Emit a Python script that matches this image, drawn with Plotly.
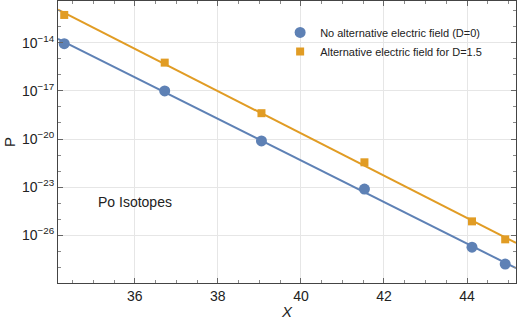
import numpy as np
import plotly.graph_objects as go

# (log10 of P)
chi_d0 = [34.3, 36.72, 39.05, 41.53, 44.12, 44.92]
logp_d0 = [-14.06, -17.0, -20.12, -23.12, -26.74, -27.79]
chi_d15 = [34.3, 36.72, 39.05, 41.53, 44.12, 44.92]
logp_d15 = [-12.27, -15.24, -18.39, -21.45, -25.13, -26.25]

y_exps = [-14, -17, -20, -23, -26]
x_ticks = [36, 38, 40, 42, 44]

BLUE = "#5E81B5"
ORANGE = "#E19C24"

xr = [34.15, 45.18]
xx = np.array(xr)

fig = go.Figure()

# fitted lines (straight in log space)
for xs, ys, col in [(chi_d0, logp_d0, BLUE), (chi_d15, logp_d15, ORANGE)]:
    k, b = np.polyfit(xs, ys, 1)
    fig.add_trace(go.Scatter(x=xx, y=10 ** (k * xx + b), mode="lines",
                             line=dict(color=col, width=2), showlegend=False,
                             hoverinfo="skip"))

fig.add_trace(go.Scatter(x=chi_d0, y=[10 ** v for v in logp_d0], mode="markers",
                         name="No alternative electric field (D=0)",
                         marker=dict(color=BLUE, size=11, symbol="circle")))
fig.add_trace(go.Scatter(x=chi_d15, y=[10 ** v for v in logp_d15], mode="markers",
                         name="Alternative electric field for D=1.5",
                         marker=dict(color=ORANGE, size=8, symbol="square")))

fig.add_annotation(x=36.0, y=-23.93, xref="x", yref="y", text="Po Isotopes",
                   showarrow=False, xanchor="center",
                   font=dict(size=14, color="#222"))

axis_common = dict(showline=True, linecolor="#444", linewidth=1, mirror="ticks",
                   ticks="inside", tickcolor="#666", ticklen=5,
                   gridcolor="#e6e6e6", zeroline=False, automargin=False,
                   tickfont=dict(size=14, color="#222"))

fig.update_xaxes(range=xr, tickvals=x_ticks,
                 title=dict(text="<i>X</i>", font=dict(size=15, color="#222"), standoff=3),
                 minor=dict(dtick=0.5, ticks="inside", ticklen=3, tickcolor="#888", showgrid=False),
                 **axis_common)
fig.update_yaxes(type="log", range=[-28.97, -11.4],
                 tickvals=[10.0 ** e for e in y_exps],
                 ticktext=["10<sup>\u2212%d</sup>" % -e for e in y_exps],
                 title=dict(text="P", font=dict(size=15, color="#222"), standoff=2),
                 minor=dict(tickvals=[10.0 ** e for e in range(-29, -11)], ticks="inside",
                            ticklen=3, tickcolor="#888", showgrid=False),
                 **axis_common)

fig.update_layout(width=518, height=323, template="plotly_white",
                  plot_bgcolor="white", paper_bgcolor="white",
                  font=dict(family="Liberation Sans, Arial, sans-serif"),
                  margin=dict(l=58, r=2, t=1, b=40),
                  legend=dict(x=0.485, y=0.94, xanchor="left", yanchor="top",
                              bgcolor="rgba(0,0,0,0)", tracegroupgap=0,
                              font=dict(size=11, color="#222"), itemwidth=30))

# drop the default 8px body margin of the page
fig.write_html("out.html", config={"displayModeBar": False},
               post_script="document.body.style.margin='0';")
